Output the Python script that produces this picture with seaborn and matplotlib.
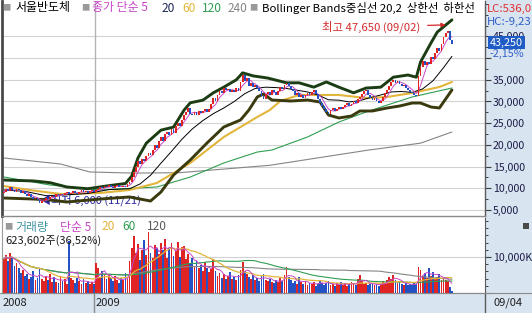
import numpy as np
import pandas as pd
import matplotlib
matplotlib.use("Agg")
import matplotlib.pyplot as plt
import matplotlib.transforms as mtransforms
from matplotlib.patches import Rectangle
from matplotlib.lines import Line2D
from matplotlib.ticker import FixedLocator, FuncFormatter, MultipleLocator
import seaborn as sns

sns.set_style("white")
plt.rcParams['font.family'] = ['Noto Sans CJK KR', 'DejaVu Sans']
plt.rcParams['axes.unicode_minus'] = False

# ---------------- data ----------------
first_open = 9000
closes = [
    9200, 9800, 9400, 10200, 9700, 9100, 9900, 9600, 9000, 9300,
    8700, 8200, 8600, 7900, 7500, 7800, 7200, 6700, 7100, 7400,
    7800, 7600, 8000, 8300, 8100, 8600, 8400, 8800, 8500, 8900,
    9100, 8700, 8900, 9300, 9000, 8800, 9200, 9500, 9100, 9400,
    9000, 9300, 9600, 9200,
    9500, 9900, 10300, 10000, 10500, 10200, 10700, 10400, 10100, 10500,
    10800, 10400, 10200, 10600, 10300, 10900,
    11500, 12500, 13800, 15000, 16200, 15600, 16800, 16300, 17500, 18100,
    17600, 18800, 19900, 19300, 21000, 21800, 20900, 22400, 23000, 22300,
    23600, 22800, 24300, 25000, 24400,
    25800, 26900, 27500, 28600, 27200, 26800, 27600, 27000, 27900, 27300,
    27700, 28300, 27600, 28200, 29500, 30800, 30200, 31600, 32500, 32000,
    33200, 32600, 32900, 32200, 32700, 32300, 33000, 32400, 34500, 36200,
    34800, 35300, 33600, 34200, 33300, 33900, 33000, 32400, 31200, 30600,
    31800, 32300, 31500, 32700, 32200, 31600, 32500, 33400, 32800, 33900,
    34300, 33500, 32800, 32500, 31400, 31900, 31000,
    31600, 30800, 31500, 32000, 31400, 32300, 32600, 31700, 30600, 29700,
    28900, 28200, 27500, 27100, 28000, 28600, 27800, 28300, 28800, 28200,
    28700, 29300, 29700, 28900, 29400, 30200, 29600, 30500, 31000,
    31800, 32400, 32700, 31600, 30800, 30300, 30900, 30100, 29700, 30200,
    31100, 31900, 32700, 33600, 34400, 35000, 34300, 34800, 34100, 33600,
    33900, 33200, 32700, 32200, 31900, 31400, 31200,
    35800, 37900, 39400, 38500, 39200, 38700, 40300, 39800, 41200, 42400,
    41600, 43300, 44900, 45800, 46300, 44200, 43250,
]
volume_k = [
    9500, 10500, 8800, 11000, 9600, 7500, 8200, 6800,
    5600, 6500, 4800, 5200, 3900, 4500, 6200, 3600, 4200, 6600, 4000, 3400,
    4800, 3600, 5200, 3100, 4400, 3000, 2800, 4600, 3200, 3800, 2600, 14500, 4200,
    3600, 2900, 4100, 3300, 2500, 3800, 2700, 3400, 2400, 3000, 2600,
    8300, 7000, 4500, 6200, 5000, 3800, 5400, 4100, 3200, 4800, 3600, 2800, 4200, 3500, 5500, 3900,
    9000, 12500, 15800, 11000, 13500, 9200, 12000, 14600, 10500, 16800,
    11200, 9600, 13200, 12400, 10800, 14000, 11800, 15000, 9800, 12600,
    13800, 10400, 11600, 14200, 10100, 12800,
    13000, 9500, 10800, 8200, 9600, 7400, 8800, 6900, 7800, 6200, 8500, 7000, 5800, 6600, 9300,
    6000, 4800, 5600, 4200, 5200, 3900, 4600, 5800, 4000, 4400, 3600, 5000, 6400, 8700,
    6200, 5400, 4300, 3800, 4900, 3500, 4200, 3200, 4600, 5300,
    3700, 3300, 4000, 3100, 2800, 3600, 3000, 4100, 3400, 5000,
    7300, 4500, 3600, 2900, 3300, 2600, 4500,
    3000, 2500, 3400, 2200, 2800, 2400, 3100, 2000, 2600, 3500,
    2900, 2300, 2700, 3200, 2100, 2500, 1900, 2800, 2300, 3000,
    2200, 2600, 2000, 2400, 3100, 2700, 2300, 3800, 5000,
    3200, 2600, 2900, 2200, 2500, 2800, 2100, 2400, 2000, 2600,
    3300, 2700, 3600, 4400, 3900, 5100, 3500, 2900, 3200, 2600,
    2300, 2800, 2100, 2500, 2200, 2700, 2400,
    7300, 6500, 4800, 5500, 4200, 6800, 4600, 5900, 4000, 4500,
    5200, 3600, 4100, 3700, 3200, 1710, 624,
]

upper_idx = [0, 14, 22, 30, 40, 50, 58, 61, 64, 68, 75, 81, 86, 89, 95, 100, 105, 111, 114, 119,
             126, 135, 141, 148, 154, 160, 167, 173, 180, 186, 193, 197, 199, 204, 207, 210, 214]
upper = [11900, 11700, 11300, 10300, 9900, 10600, 11100, 12800, 17000, 20400, 23400, 24100, 28000, 29700,
         30300, 32000, 33300, 35000, 36600, 35900, 35400, 34300, 34300, 33300, 34500, 33300, 32000, 33100,
         33300, 35600, 36100, 35600, 39100, 43500, 46000, 47200, 48800]
lower_idx = [0, 14, 22, 30, 46, 60, 65, 70, 75, 81, 89, 97, 105, 113, 117, 121, 124, 128, 137, 145,
             151, 155, 160, 166, 170, 176, 183, 189, 195, 199, 204, 208, 211, 214]
lower = [7760, 7530, 7300, 6840, 7530, 8000, 7530, 7070, 9150, 13060, 16520, 20440, 24120, 25740, 28040,
         31040, 31730, 30340, 30110, 30340, 29880, 26890, 26200, 26660, 27810, 27810, 28500, 28960, 29650,
         29650, 28730, 28500, 30570, 32650]
ma20_idx = [0, 10, 20, 30, 40, 50, 60, 65, 70, 75, 80, 85, 90, 95, 100, 105, 110, 115, 120, 125,
            130, 135, 140, 145, 150, 155, 160, 165, 170, 175, 180, 185, 190, 195, 200, 205, 210, 214]
ma20 = [9600, 9300, 8300, 8500, 8800, 9700, 9900, 11000, 13000, 15800, 18500, 21300, 23700, 25600, 27200,
        28500, 30000, 31800, 33000, 33300, 33200, 33000, 32600, 32200, 31500, 30400, 30300, 29900, 30200,
        30900, 31500, 32200, 32300, 32100, 32900, 34800, 37800, 40400]
ma60_idx = [0, 12, 27, 46, 60, 73, 81, 89, 97, 105, 113, 121, 127, 132, 138, 141, 160, 173, 183, 195, 208, 214]
ma60 = [10530, 9610, 8690, 8920, 9610, 11220, 13520, 15830, 18820, 21820, 24120, 26430, 28040, 30100,
        31040, 31500, 31500, 30800, 31040, 31960, 33340, 34490]
ma120_idx = [0, 22, 46, 73, 89, 105, 121, 128, 145, 160, 173, 186, 195, 214]
ma120 = [12600, 10760, 9610, 10300, 12600, 15830, 18360, 18820, 21820, 25270, 27580, 29650, 31040, 33110]
ma240_idx = [0, 27, 41, 62, 84, 127, 174, 199, 214]
ma240 = [16980, 15600, 13760, 13500, 13600, 15300, 18800, 20400, 22970]

price_ticks = [5000, 10000, 15000, 20000, 25000, 30000, 35000, 40000, 45000]

# ---------------- colours ----------------
RED = '#e02424'
BLUE = '#2452c4'
PANEL = '#d9e4f1'
MAG = '#c848c8'
NAVY = '#1e2858'
GOLD = '#e2b63a'
GREEN = '#2f9e52'
GRAY = '#858585'
UPC = '#1c3c14'
LOWC = '#3a3a0e'
GRID = '#d2d2d2'

W, H = 532, 313
fig = plt.figure(figsize=(W / 100, H / 100), dpi=100)
PX = mtransforms.Affine2D().scale(1 / W, -1 / H).translate(0, 1) + fig.transFigure


def fr(x0, y0, x1, y1):
    return [x0 / W, 1 - y1 / H, (x1 - x0) / W, (y1 - y0) / H]


# background panels (drawn beneath the axes)
fig.patches.append(Rectangle((485 / W, 0), 1 - 485 / W, 1, transform=fig.transFigure,
                             facecolor=PANEL, edgecolor='none', zorder=-5))
fig.patches.append(Rectangle((0, 0), 1, 20 / H, transform=fig.transFigure,
                             facecolor=PANEL, edgecolor='none', zorder=-5))

n = len(closes)
idx = np.arange(n)
c = np.array(closes, dtype=float)
o = np.array([first_open] + closes[:-1], dtype=float)
up = c >= o
cols = np.where(up, RED, BLUE)
XL = (-0.956, 229.8)

# ---------------- price panel ----------------
ax = fig.add_axes(fr(2, 1, 485, 216))
ax.set_xlim(*XL)
ax.set_ylim(3618, 53154)
ax.set_facecolor('white')

for xi, yi, col, lw, z in [
    (ma240_idx, ma240, GRAY, 0.8, 2),
    (ma120_idx, ma120, GREEN, 0.8, 2),
    (ma60_idx, ma60, GOLD, 1.5, 2),
    (ma20_idx, ma20, 'black', 0.7, 2),
    (upper_idx, upper, UPC, 2.1, 2.5),
    (lower_idx, lower, LOWC, 2.1, 2.5),
]:
    sns.lineplot(x=xi, y=yi, ax=ax, color=col, linewidth=lw, zorder=z, legend=False)

ma5 = pd.Series(c).rolling(5, min_periods=1).mean()
sns.lineplot(x=idx, y=ma5, ax=ax, color=MAG, linewidth=0.7, zorder=2.6, legend=False)

ax.bar(idx, np.maximum(np.abs(c - o), 150), bottom=np.minimum(o, c), width=0.85,
       color=cols, linewidth=0, zorder=3)

ax.set_xlabel('')
ax.set_ylabel('')
ax.set_xticks([])
ax.yaxis.tick_right()
ax.yaxis.set_major_locator(FixedLocator(price_ticks))
ax.yaxis.set_major_formatter(FuncFormatter(
    lambda v, p: '' if int(round(v)) == 40000 else f'{int(round(v)):,}'))
ax.yaxis.set_minor_locator(MultipleLocator(2500))
ax.tick_params(axis='y', which='major', direction='out', length=4, width=0.8,
               color='#404040', labelcolor='#1c1c48', labelsize=7.6, pad=1.5,
               right=True, labelright=True, left=False, labelleft=False)
ax.tick_params(axis='y', which='minor', direction='out', length=2, width=0.7, color='#404040',
               right=True, left=False)
ax.grid(axis='y', which='major', color=GRID, linewidth=0.8, zorder=0)
ax.set_axisbelow(True)
ax.axvline(43.5, color='#b4b4b4', linewidth=1.0, zorder=1)
ax.spines['top'].set_visible(False)
ax.spines['left'].set_color('#4a4a4a')
ax.spines['left'].set_linewidth(2.0)
ax.spines['right'].set_color('#5a5a5a')
ax.spines['right'].set_linewidth(1.0)
ax.spines['bottom'].set_color('#8a8a8a')
ax.spines['bottom'].set_linewidth(1.0)


def ptxt(x, y, s, color, size=8.6, clip=True, z=6, **kw):
    t = ax.text(x, y, s, transform=PX, color=color, fontsize=size, ha='left', va='center',
                zorder=z, clip_on=clip, **kw)
    return t


# title row
ptxt(2, 8, '■', '#9a9a9a', size=6)
ptxt(15, 8, '서울반도체', 'black')
ptxt(81, 8, '■', '#9a9a9a', size=6)
ptxt(92, 8, '종가 단순 5', MAG)
ptxt(162, 8, '20', NAVY)
ptxt(182, 8, '60', GOLD)
ptxt(202, 8, '120', GREEN)
ptxt(228, 8, '240', GRAY)
ptxt(249, 8, '■', '#9a9a9a', size=6)
ptxt(262, 8, 'Bollinger Bands중심선 20,2  상한선  하한선', 'black', size=8.2)

# annotations
ptxt(40, 200, '◀최저 6,000 (11/21)', '#2a2aa0', size=8, z=2.2)
ax.annotate('최고 47,650 (09/02)', xy=(211, 47650), xycoords='data',
            xytext=(322, H - 27), textcoords='figure pixels', ha='left', va='center',
            color='#d42a2a', fontsize=8.2, zorder=6,
            arrowprops=dict(arrowstyle='-|>', color='#d42a2a', lw=0.9,
                            mutation_scale=6, shrinkA=3, shrinkB=0))

# ---------------- volume panel ----------------
av = fig.add_axes(fr(2, 218, 485, 293))
av.set_xlim(*XL)
av.set_ylim(0, 20800)
av.set_facecolor('white')
av.bar(idx, volume_k, width=0.85, color=cols, linewidth=0, zorder=3)
vs = pd.Series(volume_k, dtype=float)
for w, col, lw in [(120, GRAY, 0.8), (60, GREEN, 0.8), (20, GOLD, 0.9), (5, MAG, 0.7)]:
    sns.lineplot(x=idx, y=vs.rolling(w, min_periods=1).mean(), ax=av, color=col,
                 linewidth=lw, zorder=4, legend=False)
av.set_xlabel('')
av.set_ylabel('')
av.set_xticks([])
av.yaxis.tick_right()
av.yaxis.set_major_locator(FixedLocator([0, 10000]))
av.yaxis.set_major_formatter(FuncFormatter(lambda v, p: '10,000K' if v > 0 else ''))
av.yaxis.set_minor_locator(MultipleLocator(2000))
av.tick_params(axis='y', which='major', direction='out', length=4, width=0.8,
               color='#404040', labelcolor='#1c1c48', labelsize=7.6, pad=1.5,
               right=True, labelright=True, left=False, labelleft=False)
av.tick_params(axis='y', which='minor', direction='out', length=2, width=0.7, color='#404040',
               right=True, left=False)
av.grid(axis='y', which='major', color=GRID, linewidth=0.8, zorder=0)
av.set_axisbelow(True)
av.axvline(43.5, color='#b4b4b4', linewidth=1.0, zorder=1)
av.spines['top'].set_visible(False)
av.spines['left'].set_color('#9a9a9a')
av.spines['right'].set_color('#5a5a5a')
av.spines['bottom'].set_color('#7a7a7a')


def vtxt(x, y, s, color, size=8.6):
    av.text(x, y, s, transform=PX, color=color, fontsize=size, ha='left', va='center',
            zorder=6, clip_on=True)


vtxt(4, 227, '■', '#9a9a9a', size=6)
vtxt(15, 227, '거래량', '#3f95a2')
vtxt(60, 227, '단순 5', MAG)
vtxt(102, 227, '20', GOLD)
vtxt(122, 227, '60', GREEN)
vtxt(147, 227, '120', '#5a5a5a')
vtxt(5, 241, '623,602주(36,52%)', '#1a1a1a', size=8)

# ---------------- right panel / bottom strip texts ----------------
def ftxt(x, y, s, color, size=8, **kw):
    fig.text(x / W, 1 - y / H, s, color=color, fontsize=size, ha='left', va='center', **kw)


ftxt(487, 9, 'LC:536,0', '#e03030', size=8.2)
ftxt(487, 22, 'HC:-9,23', '#3060c8', size=8.2)
ftxt(490, 42.5, '43,250', 'white', size=7.8,
     bbox=dict(boxstyle='square,pad=0.15', facecolor='#1f5cc6', edgecolor='none'))
ftxt(489, 54, '-2,15%', '#3060c8', size=7.8)

fig.add_artist(Rectangle((523 / W, 1 - 229 / H), 6 / W, 6 / H, transform=fig.transFigure,
                         facecolor='#4a4a4a', edgecolor='none', zorder=5))

ftxt(3, 303, '2008', '#202020', size=8)
ftxt(96, 303, '2009', '#202020', size=8)
ftxt(494, 303, '09/04', '#202020', size=8)
fig.add_artist(Line2D([94 / W, 94 / W], [0, 20 / H], transform=fig.transFigure,
                      color='#8a8a8a', linewidth=1.0))
fig.add_artist(Line2D([485 / W, 485 / W], [0, 20 / H], transform=fig.transFigure,
                      color='#5a5a5a', linewidth=1.0))
fig.add_artist(Line2D([0, 1], [20 / H, 20 / H], transform=fig.transFigure,
                      color='#8a8a8a', linewidth=0.8))

fig.savefig('out.png', dpi=100)
